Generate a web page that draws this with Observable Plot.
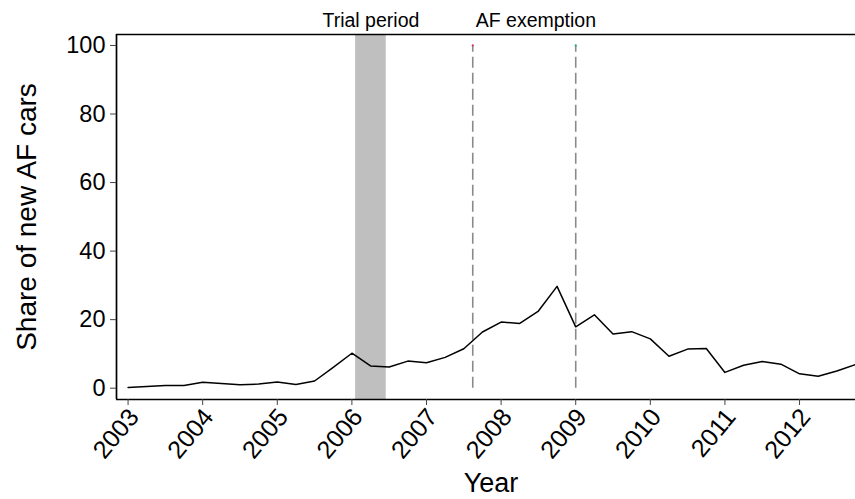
<!DOCTYPE html>
<html>
<head>
<meta charset="utf-8">
<script src="https://cdn.jsdelivr.net/npm/d3@7"></script>
<script src="https://cdn.jsdelivr.net/npm/@observablehq/plot@0.6"></script>
<style>
  html, body { margin: 0; padding: 0; background: #fff; }
</style>
</head>
<body>
<div id="chart"></div>
<script>
// Quarter (decimal year) and share of new alternative-fuel cars (%)
const quarters = [
  2003.00, 2003.25, 2003.50, 2003.75,
  2004.00, 2004.25, 2004.50, 2004.75,
  2005.00, 2005.25, 2005.50, 2005.75,
  2006.00, 2006.25, 2006.50, 2006.75,
  2007.00, 2007.25, 2007.50, 2007.75,
  2008.00, 2008.25, 2008.50, 2008.75,
  2009.00, 2009.25, 2009.50, 2009.75,
  2010.00, 2010.25, 2010.50, 2010.75,
  2011.00, 2011.25, 2011.50, 2011.75,
  2012.00, 2012.25, 2012.50, 2012.75
];
const shareAF = [
  0.2, 0.5, 0.8, 0.8,
  1.7, 1.4, 1.0, 1.2,
  1.8, 1.1, 2.1, 6.1,
  10.2, 6.5, 6.2, 7.9,
  7.4, 9.0, 11.5, 16.4,
  19.3, 18.9, 22.5, 29.7,
  17.9, 21.4, 15.8, 16.5,
  14.4, 9.3, 11.4, 11.6,
  4.6, 6.7, 7.8, 7.0,
  4.2, 3.5, 5.0, 6.9
];
const yearTicks = [2003, 2004, 2005, 2006, 2007, 2008, 2009, 2010, 2011, 2012];
const yTicks = [0, 20, 40, 60, 80, 100];

// Event markers
const trialPeriod = {start: 2006.05, end: 2006.46, label: "Trial period"};
const eventLines = [2007.62, 2009.0];
const eventDotColors = ["#d9345f", "#22b07d"];
const exemptionLabel = {x: 2007.62, label: "AF exemption"};

const xDomain = [2002.845, 2012.75];
const yDomain = [-3.3, 103.2];

const data = quarters.map((q, i) => ({q, v: shareAF[i]}));
const font = "'Liberation Sans', Arial, Helvetica, sans-serif";

const chart = Plot.plot({
  width: 855,
  height: 499,
  marginLeft: 116,
  marginRight: 0,
  marginTop: 34,
  marginBottom: 100,
  style: {fontFamily: font, background: "#fff", color: "#000"},
  x: {domain: xDomain},
  y: {domain: yDomain},
  marks: [
    Plot.rect([trialPeriod], {x1: "start", x2: "end", fill: "#bfbfbf"}),
    Plot.ruleX(eventLines, {y1: 0, y2: 100, stroke: "#8a8a8a", strokeWidth: 1.6, strokeDasharray: "11,5"}),
    Plot.dot(eventLines.map((x, i) => ({x, c: eventDotColors[i]})), {x: "x", y: () => 100, r: 1.1, fill: "c", stroke: null}),
    Plot.line(data, {x: "q", y: "v", stroke: "#000", strokeWidth: 1.5}),
    // frame: left, bottom, top
    Plot.ruleX([xDomain[0]], {stroke: "#000", strokeWidth: 1.7}),
    Plot.ruleY([yDomain[0]], {stroke: "#000", strokeWidth: 1.7}),
    Plot.ruleY([yDomain[1]], {stroke: "#000", strokeWidth: 1.7}),
    Plot.axisY({ticks: yTicks, tickSize: 6, tickPadding: 5, fontSize: 23.5, label: null, stroke: "#444"}),
    Plot.axisX({ticks: yearTicks, tickSize: 6, fill: "none", label: null, stroke: "#444"}),
    // rotated year labels
    Plot.text(yearTicks, {x: d => d, text: d => String(d), frameAnchor: "bottom", rotate: -50, textAnchor: "end", lineAnchor: "middle", dx: 6, dy: 13, fontSize: 25}),
    // annotations above the frame
    Plot.text([trialPeriod], {x: d => (d.start + d.end) / 2, text: "label", frameAnchor: "top", lineAnchor: "bottom", dy: -7.5, fontSize: 19.5}),
    Plot.text([exemptionLabel], {x: "x", text: "label", frameAnchor: "top", lineAnchor: "bottom", textAnchor: "start", dx: 3, dy: -7.5, fontSize: 19.5}),
    // axis titles
    Plot.text(["Share of new AF cars"], {frameAnchor: "left", textAnchor: "middle", rotate: -90, dx: -89, fontSize: 28}),
    Plot.text(["Year"], {frameAnchor: "bottom", lineAnchor: "bottom", dx: 5, dy: 92.5, fontSize: 27})
  ]
});
document.getElementById("chart").appendChild(chart);
</script>
</body>
</html>
